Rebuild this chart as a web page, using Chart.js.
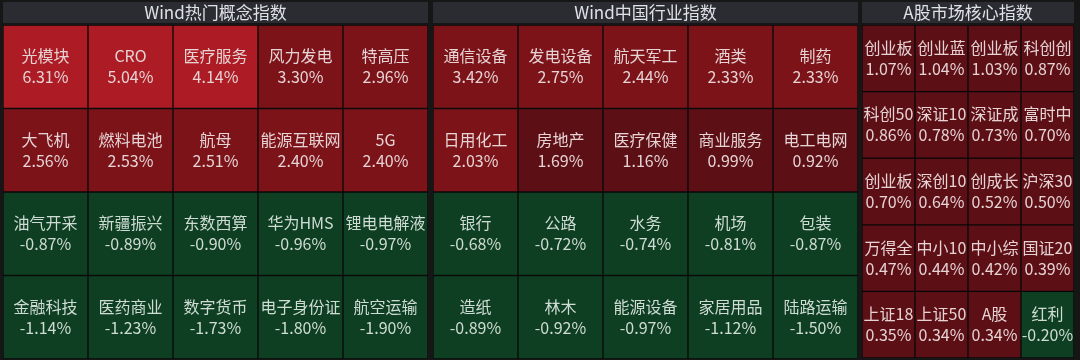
<!DOCTYPE html>
<html>
<head>
<meta charset="utf-8">
<script src="https://cdn.jsdelivr.net/npm/chart.js@4.4.1/dist/chart.umd.min.js"></script>
<style>
  html, body { margin: 0; padding: 0; background: #161616; width: 1080px; height: 360px; overflow: hidden; }
  canvas { position: absolute; top: 0; }
</style>
</head>
<body>
<canvas id="concepts" width="425" height="359" style="left:3px"></canvas>
<canvas id="industries" width="425" height="359" style="left:433px"></canvas>
<canvas id="indices" width="212" height="358" style="left:862px"></canvas>
<script>
// Panel titles
const panelTitles = ['Wind热门概念指数', 'Wind中国行业指数', 'A股市场核心指数'];

// Wind hot concept indices (row-major, 5 per row)
const conceptNames = ['光模块', 'CRO', '医疗服务', '风力发电', '特高压',
  '大飞机', '燃料电池', '航母', '能源互联网', '5G',
  '油气开采', '新疆振兴', '东数西算', '华为HMS', '锂电电解液',
  '金融科技', '医药商业', '数字货币', '电子身份证', '航空运输'];
const conceptChanges = [6.31, 5.04, 4.14, 3.30, 2.96,
  2.56, 2.53, 2.51, 2.40, 2.40,
  -0.87, -0.89, -0.90, -0.96, -0.97,
  -1.14, -1.23, -1.73, -1.80, -1.90];

// Wind China industry indices (row-major, 5 per row)
const industryNames = ['通信设备', '发电设备', '航天军工', '酒类', '制药',
  '日用化工', '房地产', '医疗保健', '商业服务', '电工电网',
  '银行', '公路', '水务', '机场', '包装',
  '造纸', '林木', '能源设备', '家居用品', '陆路运输'];
const industryChanges = [3.42, 2.75, 2.44, 2.33, 2.33,
  2.03, 1.69, 1.16, 0.99, 0.92,
  -0.68, -0.72, -0.74, -0.81, -0.87,
  -0.89, -0.92, -0.97, -1.12, -1.50];

// A-share core indices (row-major, 4 per row; names as shown in the narrow cells)
const indexNames = ['创业板', '创业蓝', '创业板', '科创创',
  '科创50', '深证10', '深证成', '富时中',
  '创业板', '深创10', '创成长', '沪深30',
  '万得全', '中小10', '中小综', '国证20',
  '上证18', '上证50', 'A股', '红利'];
const indexChanges = [1.07, 1.04, 1.03, 0.87,
  0.86, 0.78, 0.73, 0.70,
  0.70, 0.64, 0.52, 0.50,
  0.47, 0.44, 0.42, 0.39,
  0.35, 0.34, 0.34, -0.20];

const FONT = '"Noto Sans CJK SC", "Noto Sans", sans-serif';

function cellColor(v) {
  if (v < 0) return '#0e3f22';
  if (v >= 4) return '#ad1c24';
  if (v >= 2) return '#7b1319';
  return '#5c0f15';
}

// Dark header strip with the panel title above the cells
const panelHeader = {
  id: 'panelHeader',
  beforeDraw(chart, args, opts) {
    const { ctx, chartArea } = chart;
    ctx.save();
    ctx.fillStyle = '#2b2c31';
    ctx.fillRect(chartArea.left, 2, chartArea.right - chartArea.left, chartArea.top - 4);
    ctx.fillStyle = '#dde1e8';
    ctx.font = '17px ' + FONT;
    ctx.textAlign = 'center';
    ctx.textBaseline = 'middle';
    ctx.fillText(opts.text, (chartArea.left + chartArea.right) / 2, 13);
    ctx.restore();
  }
};

// Name and percentage change written in the middle of each cell
const cellText = {
  id: 'cellText',
  afterDatasetsDraw(chart) {
    const { ctx } = chart;
    ctx.save();
    ctx.font = '16px ' + FONT;
    ctx.textAlign = 'center';
    ctx.textBaseline = 'middle';
    chart.data.datasets.forEach((ds, di) => {
      chart.getDatasetMeta(di).data.forEach((bar, i) => {
        const { x, y } = bar.getCenterPoint();
        const v = ds.changes[i];
        ctx.fillStyle = v < 0 ? '#cfdcd3' : '#e6d3d4';
        ctx.fillText(ds.names[i], x, y - 10.5);
        ctx.fillText(v.toFixed(2) + '%', x, y + 10.5);
      });
    });
    ctx.restore();
  }
};

function buildPanel(id, title, names, changes, cols) {
  const rows = Math.ceil(names.length / cols);
  const datasets = [];
  for (let r = 0; r < rows; r++) {
    const rowNames = names.slice(r * cols, (r + 1) * cols);
    const rowChanges = changes.slice(r * cols, (r + 1) * cols);
    datasets.push({
      data: rowChanges.map(() => [r, r + 1]),
      names: rowNames,
      changes: rowChanges,
      backgroundColor: rowChanges.map(cellColor),
      borderColor: 'rgba(0,0,0,0.55)',
      borderWidth: 1,
      borderSkipped: false,
      grouped: false,
      categoryPercentage: 1,
      barPercentage: 1
    });
  }
  new Chart(document.getElementById(id), {
    type: 'bar',
    data: { labels: Array.from({ length: cols }, (_, c) => String(c)), datasets },
    options: {
      responsive: false,
      animation: false,
      events: [],
      layout: { padding: { top: 25, left: 0, right: 0, bottom: 0 } },
      scales: {
        x: { display: false, offset: true },
        y: { display: false, min: 0, max: rows, reverse: true }
      },
      plugins: {
        legend: { display: false },
        tooltip: { enabled: false },
        panelHeader: { text: title }
      }
    },
    plugins: [panelHeader, cellText]
  });
}

buildPanel('concepts', panelTitles[0], conceptNames, conceptChanges, 5);
buildPanel('industries', panelTitles[1], industryNames, industryChanges, 5);
buildPanel('indices', panelTitles[2], indexNames, indexChanges, 4);
</script>
</body>
</html>
